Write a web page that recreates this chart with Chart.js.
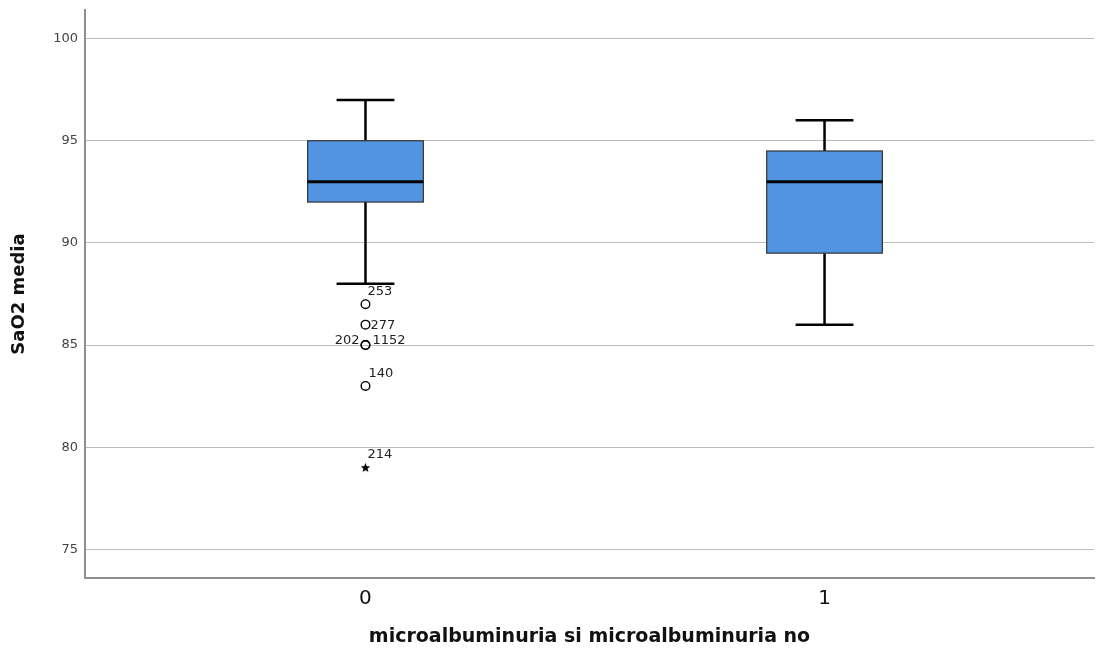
<!DOCTYPE html>
<html>
<head>
<meta charset="utf-8">
<script src="https://cdn.jsdelivr.net/npm/chart.js@4/dist/chart.umd.min.js"></script>
<style>
  html, body { margin: 0; padding: 0; background: #fff; }
  #wrap { width: 1100px; height: 653px; }
</style>
</head>
<body>
<div id="wrap"><canvas id="c" width="1100" height="653"></canvas></div>
<script>
// ---- data ----
const categories = ['0', '1'];
const whiskerLow  = [88, 86];
const q1          = [92, 89.5];
const median      = [93, 93];
const q3          = [95, 94.5];
const whiskerHigh = [97, 96];

const outlierCat    = [0, 0, 0, 0, 0];
const outlierVal    = [87, 86, 85, 85, 83];
const outlierLabels = ['253', '277', '202', '1152', '140'];

const extremeCat    = [0];
const extremeVal    = [79];
const extremeLabels = ['214'];

const yTicks = [75, 80, 85, 90, 95, 100];

// ---- layout / style (not data) ----
const BOX_HALF = 0.126;
const CAP_HALF = 0.063;
const BOX_FILL = '#5294e2';
const labelPlacement = {
  '253':  { dx: 2,  dy: -9, align: 'left' },
  '277':  { dx: 5,  dy: 4,  align: 'left' },
  '202':  { dx: -6, dy: -1, align: 'right' },
  '1152': { dx: 7,  dy: -1, align: 'left' },
  '140':  { dx: 3,  dy: -9, align: 'left' },
  '214':  { dx: 2,  dy: -10, align: 'left' }
};

// star point style
const starCanvas = document.createElement('canvas');
starCanvas.width = 11; starCanvas.height = 11;
(function () {
  const s = starCanvas.getContext('2d');
  s.fillStyle = '#000';
  s.beginPath();
  for (let k = 0; k < 10; k++) {
    const r = k % 2 === 0 ? 5 : 2.1;
    const a = -Math.PI / 2 + k * Math.PI / 5;
    const px = 5.5 + r * Math.cos(a), py = 5.8 + r * Math.sin(a);
    if (k === 0) s.moveTo(px, py); else s.lineTo(px, py);
  }
  s.closePath();
  s.fill();
})();

const boxPlugin = {
  id: 'boxes',
  beforeDatasetsDraw(chart) {
    const { ctx, scales: { x, y } } = chart;
    categories.forEach((c, i) => {
      const cx = x.getPixelForValue(i);
      const bl = x.getPixelForValue(i - BOX_HALF), br = x.getPixelForValue(i + BOX_HALF);
      const cl = x.getPixelForValue(i - CAP_HALF), cr = x.getPixelForValue(i + CAP_HALF);
      const yHi = y.getPixelForValue(whiskerHigh[i]);
      const yLo = y.getPixelForValue(whiskerLow[i]);
      const yQ1 = y.getPixelForValue(q1[i]);
      const yQ3 = y.getPixelForValue(q3[i]);
      const yMed = y.getPixelForValue(median[i]);
      ctx.save();
      ctx.strokeStyle = '#000';
      ctx.lineWidth = 2.5;
      ctx.beginPath();
      ctx.moveTo(cx, yHi); ctx.lineTo(cx, yQ3);
      ctx.moveTo(cx, yQ1); ctx.lineTo(cx, yLo);
      ctx.moveTo(cl, yHi); ctx.lineTo(cr, yHi);
      ctx.moveTo(cl, yLo); ctx.lineTo(cr, yLo);
      ctx.stroke();
      ctx.fillStyle = BOX_FILL;
      ctx.fillRect(bl, yQ3, br - bl, yQ1 - yQ3);
      ctx.strokeStyle = '#333';
      ctx.lineWidth = 1.2;
      ctx.strokeRect(bl, yQ3, br - bl, yQ1 - yQ3);
      ctx.strokeStyle = '#000';
      ctx.lineWidth = 3;
      ctx.beginPath();
      ctx.moveTo(bl, yMed); ctx.lineTo(br, yMed);
      ctx.stroke();
      ctx.restore();
    });
  },
  afterDatasetsDraw(chart) {
    const { ctx } = chart;
    ctx.save();
    ctx.font = '13px "DejaVu Sans"';
    ctx.fillStyle = '#222';
    ctx.textBaseline = 'alphabetic';
    chart.data.datasets.forEach((ds, di) => {
      const meta = chart.getDatasetMeta(di);
      meta.data.forEach((pt, j) => {
        const lab = ds.pointLabels[j];
        const p = labelPlacement[lab] || { dx: 2, dy: -9, align: 'left' };
        ctx.textAlign = p.align;
        ctx.fillText(lab, pt.x + p.dx, pt.y + p.dy);
      });
    });
    ctx.restore();
  }
};

new Chart(document.getElementById('c'), {
  type: 'scatter',
  data: {
    datasets: [
      {
        label: 'outliers',
        data: outlierVal.map((v, i) => ({ x: outlierCat[i], y: v })),
        pointLabels: outlierLabels,
        pointStyle: 'circle',
        pointRadius: 4.3,
        pointBorderWidth: 1.4,
        pointBorderColor: '#000',
        pointBackgroundColor: 'rgba(255,255,255,0)'
      },
      {
        label: 'extremes',
        data: extremeVal.map((v, i) => ({ x: extremeCat[i], y: v })),
        pointLabels: extremeLabels,
        pointStyle: starCanvas,
        pointRadius: 5
      }
    ]
  },
  options: {
    responsive: false,
    animation: false,
    events: [],
    layout: { padding: { left: 0, top: 10, right: 0, bottom: 0 } },
    plugins: { legend: { display: false }, tooltip: { enabled: false } },
    scales: {
      x: {
        type: 'linear',
        min: -0.611,
        max: 1.587,
        afterBuildTicks: (s) => { s.ticks = categories.map((c, i) => ({ value: i })); },
        afterFit: (s) => { s.height = 75; s.paddingLeft = 0; s.paddingRight = 0; },
        grid: { display: false },
        border: { display: true, color: '#8f8f8f', width: 2 },
        ticks: {
          callback: (v) => categories[v],
          color: '#111',
          padding: 1,
          font: { family: 'DejaVu Sans', size: 20 }
        },
        title: {
          display: true,
          text: 'microalbuminuria si microalbuminuria no',
          color: '#111',
          padding: { top: 0, bottom: 5 },
          font: { family: 'DejaVu Sans', size: 19, weight: 'bold' }
        }
      },
      y: {
        min: 73.6,
        max: 101.4,
        afterBuildTicks: (s) => { s.ticks = yTicks.map(v => ({ value: v })); },
        afterFit: (s) => { s.width = 85; s.paddingTop = 0; s.paddingBottom = 0; },
        grid: { color: '#bdbdbd', lineWidth: 1, drawTicks: false },
        border: { display: true, color: '#8f8f8f', width: 2 },
        ticks: {
          color: '#444',
          padding: 7,
          font: { family: 'DejaVu Sans', size: 13 }
        },
        title: {
          display: true,
          text: 'SaO2 media',
          color: '#111',
          padding: { top: 9, bottom: 0 },
          font: { family: 'DejaVu Sans', size: 18, weight: 'bold' }
        }
      }
    }
  },
  plugins: [boxPlugin]
});
</script>
</body>
</html>
